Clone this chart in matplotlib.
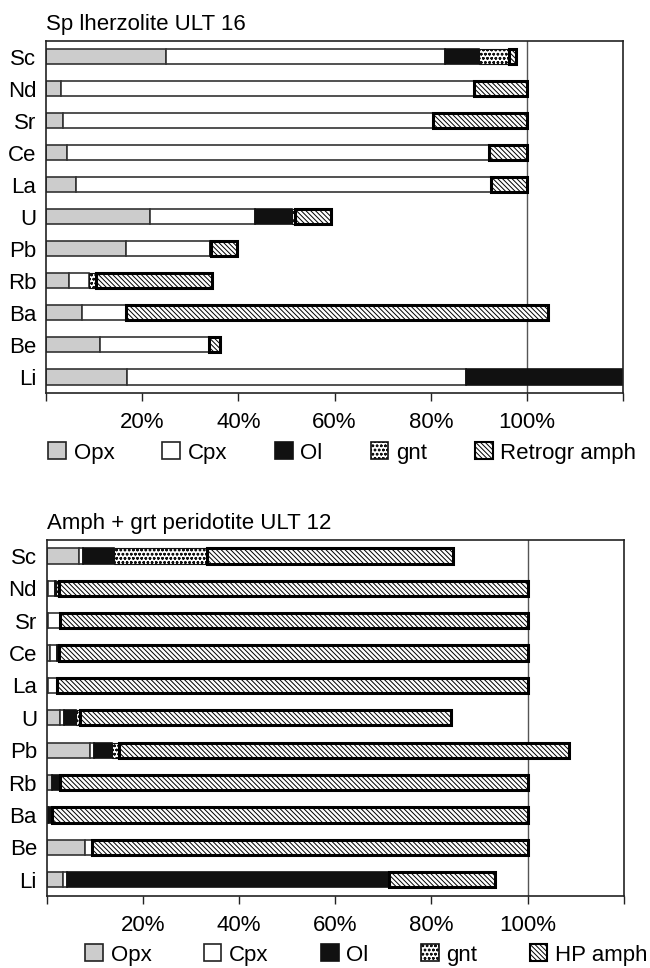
import matplotlib
matplotlib.use('Agg')
import matplotlib.pyplot as plt
import numpy as np
from matplotlib.patches import Patch

plt.rcParams['font.family'] = ['Liberation Sans', 'DejaVu Sans']
plt.rcParams['font.size'] = 16
plt.rcParams['hatch.linewidth'] = 0.7

elements = ['Sc', 'Nd', 'Sr', 'Ce', 'La', 'U', 'Pb', 'Rb', 'Ba', 'Be', 'Li']

# Sp lherzolite ULT 16 (% of whole rock budget)
top_opx = [25.0, 3.2, 3.5, 4.4, 6.2, 21.6, 16.6, 4.7, 7.5, 11.3, 16.9]
top_cpx = [58.0, 85.8, 77.0, 87.6, 86.4, 21.8, 17.4, 4.3, 9.1, 22.6, 70.5]
top_ol = [7.0, 0, 0, 0, 0, 7.7, 0.4, 0, 0, 0, 36.0]
top_gnt = [6.3, 0, 0, 0, 0, 0.7, 0, 1.3, 0, 0, 0]
top_amph = [1.5, 11.0, 19.5, 8.0, 7.4, 7.4, 5.4, 24.2, 87.8, 2.2, 0]

# Amph + grt peridotite ULT 12
bot_opx = [6.7, 0.2, 0.2, 0.7, 0.2, 2.7, 9.1, 1.1, 0.2, 7.9, 3.3]
bot_cpx = [0.9, 1.5, 2.6, 1.4, 1.9, 1.0, 0.8, 0, 0, 1.6, 1.0]
bot_ol = [6.4, 0.3, 0, 0.5, 0, 2.5, 3.7, 1.7, 1.0, 0, 66.9]
bot_gnt = [19.3, 0.6, 0, 0, 0, 0.8, 1.4, 0, 0, 0, 0]
bot_amph = [51.2, 97.4, 97.2, 97.4, 97.9, 77.0, 93.5, 97.2, 98.8, 90.5, 22.0]

# phase styles: face, edge, hatch, edge width
styles = [
    ('Opx', '#cccccc', '#333333', None, 1.2),
    ('Cpx', 'white', '#333333', None, 1.2),
    ('Ol', '#111111', '#111111', None, 1.2),
    ('gnt', 'white', '#111111', 'oooo', 0.8),
    ('amph', 'white', 'black', '\\\\\\\\\\\\\\', 2.2),
]

fig = plt.figure(figsize=(6.5, 9.68), dpi=100)
ax1 = fig.add_axes([0.0708, 0.594, 0.888, 0.364])
ax2 = fig.add_axes([0.0718, 0.0744, 0.888, 0.368])


def draw(ax, series, title):
    y = np.arange(len(elements))
    left = np.zeros(len(elements))
    for vals, (name, fc, ec, hatch, lw) in zip(series, styles):
        vals = np.array(vals, dtype=float)
        m = vals > 0
        ax.barh(y[m], vals[m], left=left[m], height=0.47, color=fc,
                edgecolor=ec, hatch=hatch, linewidth=lw, zorder=2)
        left += vals
    ax.axvline(100, color='#555555', lw=1, zorder=1)
    ax.set_xlim(0, 120)
    ax.set_ylim(10.5, -0.5)
    ax.set_yticks(y)
    ax.set_yticklabels(elements)
    ax.tick_params(axis='y', length=0, pad=7)
    ax.set_xticks(range(0, 121, 20))
    ax.set_xticklabels(['', '20%', '40%', '60%', '80%', '100%', ''])
    ax.tick_params(axis='x', length=6, width=1, direction='out', pad=8,
                   color='#222222')
    for s in ax.spines.values():
        s.set_linewidth(1.2)
        s.set_color('#222222')
    ax.set_title(title, loc='left', pad=8, fontsize=16)


draw(ax1, [top_opx, top_cpx, top_ol, top_gnt, top_amph], 'Sp lherzolite ULT 16')
draw(ax2, [bot_opx, bot_cpx, bot_ol, bot_gnt, bot_amph], 'Amph + grt peridotite ULT 12')


def legend(labels, x, yc, spacing):
    handles = []
    for name, fc, ec, hatch, lw in styles:
        handles.append(Patch(facecolor=fc, edgecolor='#222222' if name in ('Opx', 'Cpx') else ec,
                             hatch=hatch, linewidth=1.5 if name == 'amph' else 1.2))
    fig.legend(handles, labels, loc='center left', bbox_to_anchor=(x, yc),
               ncol=5, frameon=False, handlelength=0.8, handleheight=0.8,
               handletextpad=0.35, columnspacing=spacing, borderpad=0,
               borderaxespad=0, fontsize=16)


legend(['Opx', 'Cpx', 'Ol', 'gnt', 'Retrogr amph'], 48 / 650, 1 - 453 / 968, 2.15)
legend(['Opx', 'Cpx', 'Ol', 'gnt', 'HP amph'], 85 / 650, 1 - 955 / 968, 2.35)

fig.savefig('out.png', dpi=100)
